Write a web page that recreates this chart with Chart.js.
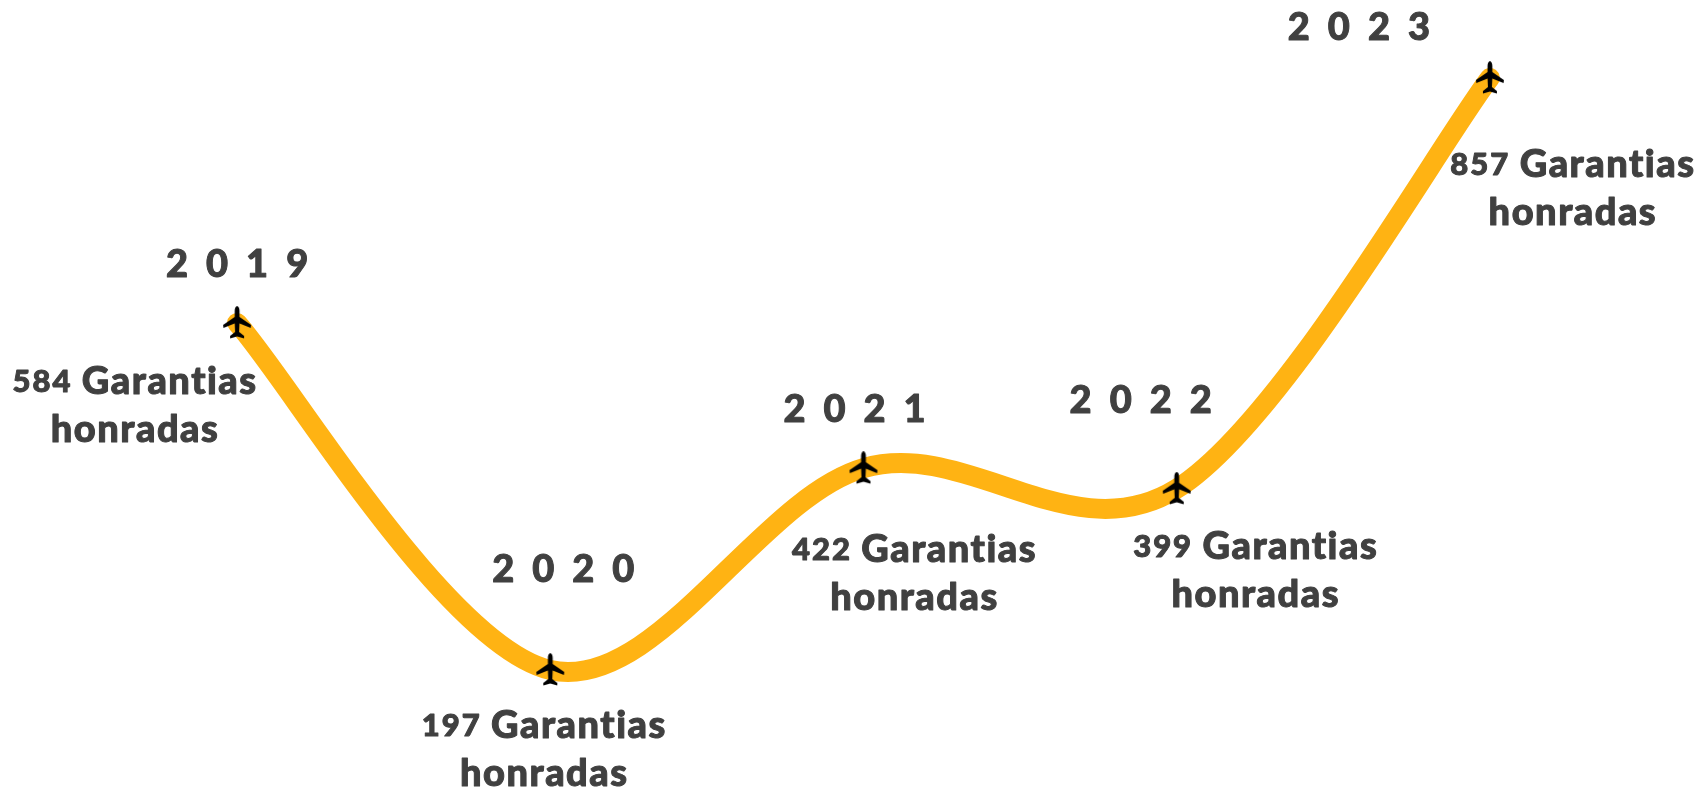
<!DOCTYPE html>
<html>
<head>
<meta charset="utf-8">
<title>Garantias honradas</title>
<script src="https://cdn.jsdelivr.net/npm/chart.js@4"></script>
<style>
  html, body { margin: 0; padding: 0; background: #fff; }
  #wrap { width: 1701px; height: 789px; }
</style>
</head>
<body>
<div id="wrap"><canvas id="garantiasChart" width="1701" height="789"></canvas></div>
<script>
// data
const years = [2019, 2020, 2021, 2022, 2023];
const garantias = [584, 197, 422, 399, 857];
const labelText = 'Garantias';
const labelText2 = 'honradas';

// label offsets from each point, in px
const yearDx = [0, 13, -9, -36, -131];
const yearDy = [-58, -100, -58, -88, -50];
const valueDx = [-102, -6, 51, 79, 83];
const valueDy = [59, 56, 82, 58, 87];

const textColor = '#404040';
const lineColor = '#FFB313';

// little plane used as point marker
function planeIcon() {
    const c = document.createElement('canvas');
    c.width = 30;
    c.height = 34;
    const g = c.getContext('2d');
    g.fillStyle = '#000';
    g.beginPath();
    g.moveTo(15, 0);
    g.quadraticCurveTo(17.4, 1, 17.4, 5);
    g.lineTo(17.4, 11);
    g.lineTo(29, 19);
    g.lineTo(28.6, 22);
    g.lineTo(17.4, 17.5);
    g.lineTo(17, 26);
    g.lineTo(22, 30);
    g.lineTo(22, 32.5);
    g.lineTo(15, 30.5);
    g.lineTo(8, 32.5);
    g.lineTo(8, 30);
    g.lineTo(13, 26);
    g.lineTo(12.6, 17.5);
    g.lineTo(1.4, 22);
    g.lineTo(1, 19);
    g.lineTo(12.6, 11);
    g.lineTo(12.6, 5);
    g.quadraticCurveTo(12.6, 1, 15, 0);
    g.closePath();
    g.fill();
    return c;
}

// fill plus a thin stroke, the installed fonts are lighter than the original
function heavyText(ctx, txt, x, y) {
    ctx.fillText(txt, x, y);
    ctx.strokeText(txt, x, y);
}

// the original curve is a uniform spline, chart.js weights by distance,
// so set the control points of the line elements here
const smoothPlugin = {
    id: 'uniformSpline',
    afterDatasetUpdate(chart, args) {
        const meta = chart.getDatasetMeta(args.index);
        const pts = meta.data;
        pts.forEach(function(p, i) {
            const prev = pts[Math.max(i - 1, 0)];
            const next = pts[Math.min(i + 1, pts.length - 1)];
            const dx = (next.x - prev.x) / 6;
            const dy = (next.y - prev.y) / 6;
            p.cp1x = p.x - dx;
            p.cp1y = p.y - dy;
            p.cp2x = p.x + dx;
            p.cp2y = p.y + dy;
        });
        meta.dataset._pointsUpdated = true;
    }
};

const labelsPlugin = {
    id: 'pointLabels',
    afterDatasetsDraw(chart) {
        const ctx = chart.ctx;
        const points = chart.getDatasetMeta(0).data;
        ctx.save();
        ctx.fillStyle = textColor;
        ctx.strokeStyle = textColor;
        ctx.lineWidth = 1;
        ctx.lineJoin = 'round';
        ctx.textBaseline = 'middle';
        points.forEach(function(p, i) {
            const txt = String(years[i]);
            // year, spaced out
            ctx.textAlign = 'center';
            ctx.font = '900 38px Lato';
            ctx.letterSpacing = '18px';
            heavyText(ctx, txt, p.x + yearDx[i] + 9, p.y + yearDy[i]);

            // first line has a smaller number in front of the word
            const cx = p.x + valueDx[i];
            const cy = p.y + valueDy[i];
            const num = String(garantias[i]) + ' ';
            ctx.letterSpacing = '2px';
            ctx.font = '900 31px Lato';
            const w1 = ctx.measureText(num).width;
            ctx.letterSpacing = '1.5px';
            ctx.font = '900 38px Lato';
            const w2 = ctx.measureText(labelText).width;
            const left = cx - (w1 + w2) / 2;
            ctx.textAlign = 'left';
            ctx.letterSpacing = '2px';
            ctx.font = '900 31px Lato';
            heavyText(ctx, num, left, cy);
            ctx.letterSpacing = '1.5px';
            ctx.font = '900 38px Lato';
            heavyText(ctx, labelText, left + w1, cy);
            ctx.textAlign = 'center';
            heavyText(ctx, labelText2, cx, cy + 48);
        });
        ctx.restore();
    }
};

const ctxGarantias = document.getElementById('garantiasChart').getContext('2d');
const garantiasChart = new Chart(ctxGarantias, {
    type: 'line',
    data: {
        datasets: [{
            label: 'Garantias honradas',
            data: years.map(function(y, i) { return { x: y, y: garantias[i] }; }),
            borderColor: lineColor,
            borderWidth: 20,
            borderCapStyle: 'round',
            tension: 0.4,
            fill: false,
            pointStyle: planeIcon(),
            pointRadius: 15,
            pointHoverRadius: 15
        }]
    },
    options: {
        responsive: false,
        animation: false,
        layout: { padding: 0, autoPadding: false },
        plugins: { legend: { display: false }, tooltip: { enabled: false } },
        scales: {
            x: { type: 'linear', display: false, min: 2018.243, max: 2023.674 },
            y: { display: false, min: 64.3, max: 944 }
        }
    },
    plugins: [smoothPlugin, labelsPlugin]
});
</script>
</body>
</html>
